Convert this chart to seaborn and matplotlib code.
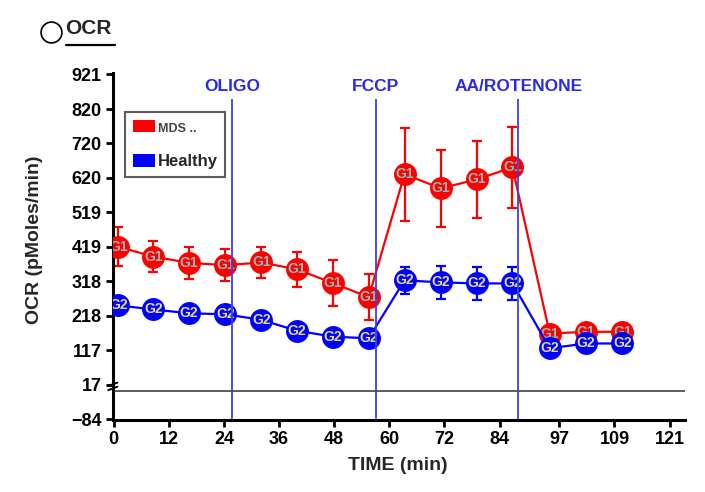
import numpy as np
import pandas as pd
import matplotlib
matplotlib.use('Agg')
import matplotlib.pyplot as plt
import matplotlib.transforms as mtransforms
from matplotlib.lines import Line2D
from matplotlib.patches import Patch
import seaborn as sns

# datos
times = [1.0, 8.6, 16.4, 24.3, 32.1, 39.9, 47.7, 55.5, 63.3, 71.2, 79.0, 86.8, 94.9, 102.8, 110.7]
mds = [419, 390, 372, 365, 373, 353, 313, 272, 630, 589, 615, 650, 166, 171, 171]
mds_sd = [57, 46, 47, 46, 44, 50, 68, 68, 136, 113, 113, 118, 10, 10, 10]
healthy = [248, 236, 225, 222, 206, 174, 157, 152, 321, 315, 312, 312, 123, 137, 137]
healthy_sd = [12, 10, 10, 10, 10, 10, 10, 10, 40, 47, 48, 48, 10, 10, 10]

groups = ['MDS ..', 'Healthy']
marker_labels = ['G1', 'G2']
inj_times = [25.7, 57.0, 88.1]
inj_names = ['OLIGO', 'FCCP', 'AA/ROTENONE']
xticks = [0, 12, 24, 36, 48, 60, 72, 84, 97, 109, 121]
yticks = [-84, 17, 117, 218, 318, 419, 519, 620, 720, 820, 921]

palette = {'MDS ..': '#ff0000', 'Healthy': '#0000ff'}
label_colors = {'G1': '#8cb9b9', 'G2': '#e2d98e'}

sns.set_style('white')
plt.rcParams['font.family'] = ['Liberation Sans', 'DejaVu Sans']

df = pd.DataFrame({
    'time': times * 2,
    'ocr': mds + healthy,
    'sd': mds_sd + healthy_sd,
    'group': [groups[0]] * len(times) + [groups[1]] * len(times),
})

fig = plt.figure(figsize=(7.05, 4.92), dpi=100)
ax = fig.add_axes([0.160, 0.1463, 0.8113, 0.7053])

# cada grupo encima del anterior: barras, linea+marcadores, texto
for i, (g, lab) in enumerate(zip(groups, marker_labels)):
    sub = df[df['group'] == g]
    z = 2 + 3 * i
    ax.errorbar(sub['time'], sub['ocr'], yerr=sub['sd'], fmt='none',
                ecolor=palette[g], elinewidth=1.6, capsize=3.8, capthick=1.6, zorder=z)
    sns.lineplot(data=sub, x='time', y='ocr', color=palette[g],
                 marker='o', markersize=16.5, markeredgewidth=0, linewidth=1.6,
                 errorbar=None, legend=False, ax=ax, zorder=z + 1)
    for t, v in zip(sub['time'], sub['ocr']):
        ax.text(t, v, lab, ha='center', va='center', fontsize=10, fontweight='bold',
                color=label_colors[lab], zorder=z + 2, clip_on=True)

ax.axhline(0, color='#404040', lw=1.2, zorder=1)
ax.vlines(inj_times, -84, 850, colors='#4040d8', lw=1.3, zorder=9)
for t, name in zip(inj_times, inj_names):
    ax.text(t, 887, name, ha='center', va='center', color='#2a2ae6',
            fontsize=12.5, fontweight='bold')

ax.set_xlim(-0.2, 124.3)
ax.set_ylim(-86, 925)
ax.set_xticks(xticks)
ax.set_yticks(yticks)
ax.tick_params(direction='out', length=5, width=2, labelsize=13, pad=3,
               left=True, bottom=True, colors='black')
for lbl in ax.get_xticklabels() + ax.get_yticklabels():
    lbl.set_fontweight('bold')
ax.set_xlabel('')
ax.set_ylabel('')
sns.despine(ax=ax)
for s in ['left', 'bottom']:
    ax.spines[s].set_linewidth(2.2)
    ax.spines[s].set_color('black')

# corte del eje y
trans = mtransforms.blended_transform_factory(ax.transAxes, ax.transData)
for yb in [6, 18]:
    ax.plot([-0.008, 0.008], [yb - 5, yb + 5], transform=trans, color='black',
            lw=1.4, clip_on=False, zorder=10)

fig.text(398 / 705, 1 - 465 / 492, 'TIME (min)', ha='center', va='center',
         fontsize=14, fontweight='bold')
fig.text(35 / 705, 1 - 240 / 492, 'OCR (pMoles/min)', ha='center', va='center',
         rotation=90, fontsize=14, fontweight='bold')

# titulo
fig.add_artist(Line2D([51 / 705], [1 - 32 / 492], marker='o', markersize=15,
                      mfc='none', mec='black', mew=1.2, transform=fig.transFigure))
fig.text(65 / 705, 1 - 29 / 492, 'OCR', ha='left', va='center', fontsize=15,
         fontweight='bold')
fig.add_artist(Line2D([66 / 705, 115 / 705], [1 - 45 / 492, 1 - 45 / 492], color='black',
                      lw=1.6, transform=fig.transFigure))

handles = [Patch(facecolor=palette[g], edgecolor='none') for g in groups]
leg = fig.legend(handles, groups, loc='upper left', bbox_to_anchor=(125 / 705, 1 - 112 / 492),
                 bbox_transform=fig.transFigure, borderaxespad=0, frameon=True, fancybox=False,
                 handlelength=1.35, handleheight=0.8, handletextpad=0.15,
                 labelspacing=1.15, borderpad=0.45,
                 prop={'weight': 'bold', 'size': 12})
leg.get_frame().set_edgecolor('#333333')
leg.get_frame().set_linewidth(1.5)
leg.get_texts()[0].set_fontsize(9)
leg.get_texts()[0].set_color('#444444')

fig.savefig('out.png', dpi=100)
